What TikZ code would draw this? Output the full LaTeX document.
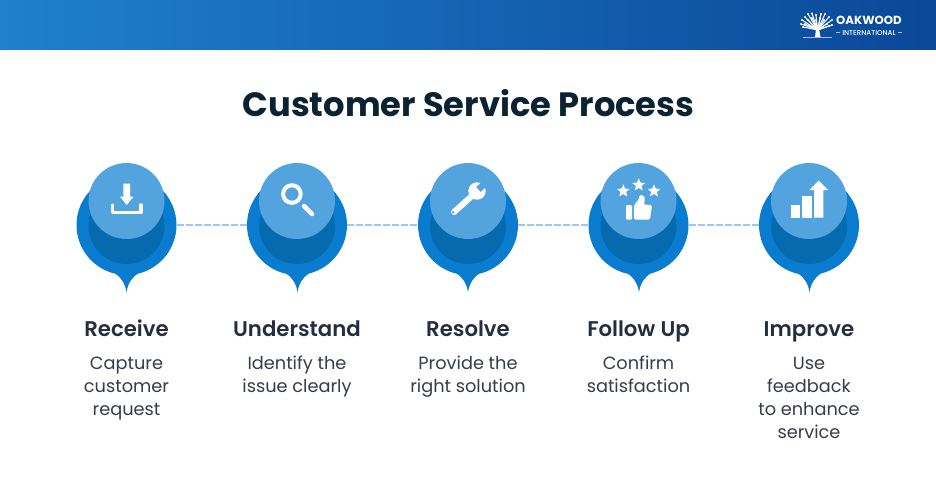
\documentclass[tikz,border=0pt]{standalone}
\usepackage{fontspec}
\setmainfont{Poppins}
\newfontfamily\semifont{Poppins SemiBold}
\newfontfamily\medfont{Poppins Medium}
\usetikzlibrary{shapes.geometric}
\definecolor{pinblue}{HTML}{0A7CCF}
\definecolor{darkblue}{HTML}{066AAF}
\definecolor{lightblue}{HTML}{53A4DE}
\definecolor{dashblue}{HTML}{9CC8F8}
\definecolor{titleink}{HTML}{0B2233}
\definecolor{headink}{HTML}{262C42}
\definecolor{bodyink}{HTML}{383C4A}
\definecolor{bannerl}{HTML}{1F80CC}
\definecolor{bannerr}{HTML}{0A4898}
\tikzset{
  pin/.style={circle,fill=pinblue,minimum size=2cm,inner sep=0pt},
  under/.style={circle,fill=darkblue,minimum size=1.52cm,inner sep=0pt},
  head/.style={circle,fill=lightblue,minimum size=1.52cm,inner sep=0pt},
  tail/.style={fill=pinblue},
  link/.style={dashblue,line width=0.03cm,dash pattern=on 0.14cm off 0.04cm},
  heading/.style={text=headink,anchor=base,inner sep=0pt,font=\semifont\fontsize{12.1}{14}\selectfont},
  body/.style={text=bodyink,anchor=north,inner sep=0pt,align=center,execute at begin node=\strut,font=\fontsize{10.1}{13.1}\selectfont},
  icon/.style={white,line width=0.07cm,line cap=round,line join=round},
  star icon/.style={star,star points=5,star point ratio=2.3,fill=white,minimum size=0.27cm,inner sep=0pt},
  twig/.style={white,line width=0.012cm},
}
\begin{document}
\begin{tikzpicture}[x=0.02cm,y=-0.02cm]
\useasboundingbox (0,0) rectangle (936,495);

%Banner
\shade[left color=bannerl,right color=bannerr] (0,0) rectangle (936,49.5);

%Logo tree
\fill[white] (815,37) -- (816,29) -- (819,29) -- (820.5,37) -- cycle;
\draw[twig,white!70!blue] (803,37.6) -- (832,37.6);
\foreach \x/\y in {801/24,802/20,805/17,808/14,812/13.5,816/15,821/14,825/14,829/17,832/20,832/25,805/24,808/20,812/18,816/20,820/18,824/20,827/24,829/26,803/27}{
  \draw[twig,line width=0.02cm] (817.5,30) -- (\x,\y);
  \fill[white] (\x,\y) circle (1.1);
}
\node[text=white,font=\bfseries\fontsize{6.7}{8}\selectfont,inner sep=0pt] (oakwood) at (869,20) {OAKWOOD};
\node[text=white,font=\medfont\fontsize{4}{5}\selectfont,inner sep=0pt] (intl) at (869,33) {\textendash{} INTERNATIONAL \textendash};

%Title
\node[text=titleink,font=\bfseries\fontsize{19.2}{24}\selectfont,inner sep=0pt] (title) at (468.5,103) {Customer Service Process};

%Receive
\fill[tail] (113,272) .. controls (121,277) and (125,283) .. (126.5,292) .. controls (128,283) and (132,277) .. (140,272);
\node[pin] (pin1) at (126.5,225){};
\node[under] (under1) at (126.5,226){};
\node[head] (head1) at (126.5,201){};
\fill[white] (123.3,183.5) -- (130,183.5) -- (130,196.5) -- (133.5,196.5) -- (126.7,205) -- (120,196.5) -- (123.3,196.5) -- cycle;
\draw[icon] (112.5,205) -- (112.5,212.5) -- (141,212.5) -- (141,205);

%Understand
\fill[tail] (284,272) .. controls (292,277) and (296,283) .. (297.5,292) .. controls (299,283) and (303,277) .. (311,272);
\node[pin] (pin2) at (297,225){};
\node[under] (under2) at (297,226){};
\node[head] (head2) at (297,201){};
\draw[icon,line width=0.08cm] (291.9,194) circle (8.8);
\draw[icon,line width=0.09cm] (304,206) -- (312,214);

%Resolve
\fill[tail] (454.5,272) .. controls (462.5,277) and (466.5,283) .. (468,292) .. controls (469.5,283) and (473.5,277) .. (481.5,272);
\node[pin] (pin3) at (468,225){};
\node[under] (under3) at (468,226){};
\node[head] (head3) at (468,201){};
\draw[icon,line width=0.12cm] (454,212) -- (473,195);
\fill[white] (477,191) circle (8.7);
\draw[lightblue,line width=0.13cm] (478.5,189.5) -- (489,179.5);
\fill[lightblue] (453.2,212.3) circle (1.4);

%Follow Up
\fill[tail] (625.5,272) .. controls (633.5,277) and (637.5,283) .. (639,292) .. controls (640.5,283) and (644.5,277) .. (652.5,272);
\node[pin] (pin4) at (638.5,225){};
\node[under] (under4) at (638.5,226){};
\node[head] (head4) at (638.5,201){};
\node[star icon] (star1) at (623.3,191){};
\node[star icon] (star2) at (638.7,185){};
\node[star icon] (star3) at (654,191){};
\fill[white,rounded corners=0.02cm] (626,205) rectangle (632,219.5);
\fill[white,rounded corners=0.03cm] (634,219.5) -- (634,205) -- (638.5,200) -- (639.5,195) -- (644,195.5) -- (645,200) -- (643.5,204.5) -- (652,205) -- (650,219.5) -- cycle;

%Improve
\fill[tail] (796,272) .. controls (804,277) and (808,283) .. (809.5,292) .. controls (811,283) and (815,277) .. (823,272);
\node[pin] (pin5) at (809,225){};
\node[under] (under5) at (809,226){};
\node[head] (head5) at (809,201){};
\fill[white] (790.5,205) rectangle (800,217.7);
\fill[white] (802.3,195.7) rectangle (812,217.7);
\fill[white] (814,217.7) -- (814,190) -- (809.3,190) -- (818.7,180.7) -- (828,190) -- (823.3,190) -- (823.3,217.7) -- cycle;

%Links
\draw[link] (pin1.east) -- (pin2.west);
\draw[link] (pin2.east) -- (pin3.west);
\draw[link] (pin3.east) -- (pin4.west);
\draw[link] (pin4.east) -- (pin5.west);

%Labels
\node[heading] (lab1) at (126.5,336){Receive};
\node[heading] (lab2) at (297,336){Understand};
\node[heading] (lab3) at (468,336){Resolve};
\node[heading] (lab4) at (638.5,336){Follow Up};
\node[heading] (lab5) at (809,336){Improve};

\node[body] (txt1) at (126.5,357){Capture\\customer\\request};
\node[body] (txt2) at (297,356){Identify the\\issue clearly};
\node[body] (txt3) at (468,356){Provide the\\right solution};
\node[body] (txt4) at (638.5,356){Confirm\\satisfaction};
\node[body] (txt5) at (809,357){Use\\feedback\\to enhance\\service};

\end{tikzpicture}
\end{document}
